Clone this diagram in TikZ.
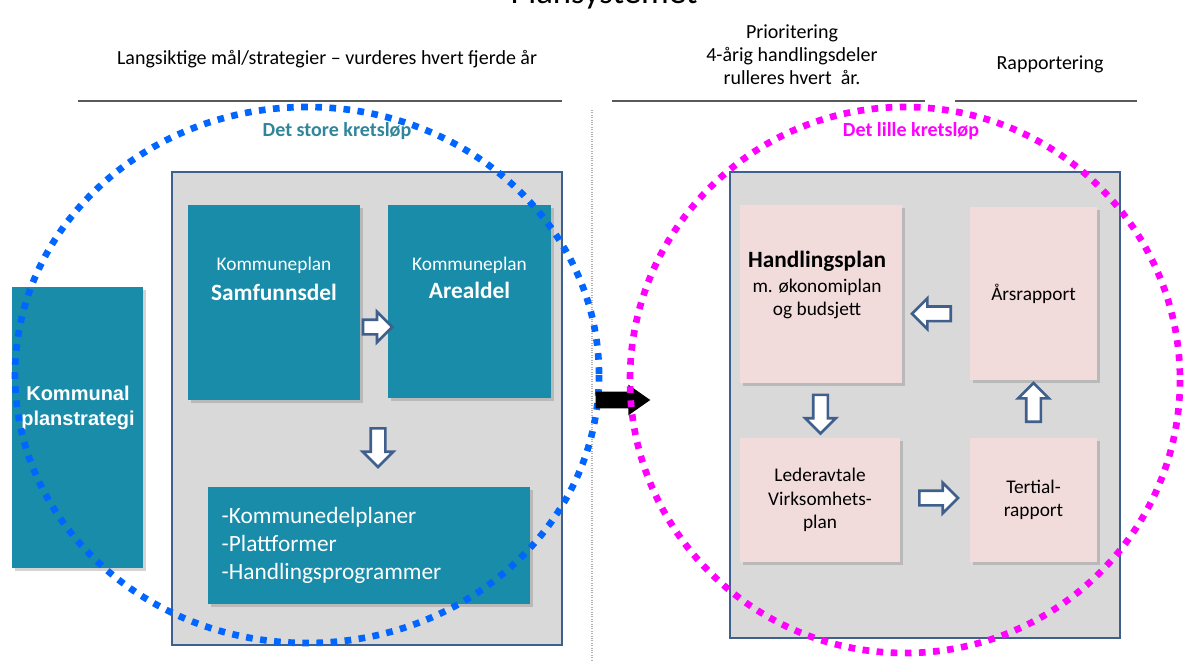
\documentclass[tikz,border=0pt]{standalone}
\usepackage{fontspec}
\setmainfont{Carlito}
\newfontfamily\arialfont{Liberation Sans}
\usetikzlibrary{shapes.arrows,shadows,calc,positioning}
\definecolor{planteal}{RGB}{24,140,168}
\definecolor{kretsteal}{RGB}{49,133,155}
\definecolor{panelgray}{RGB}{217,217,217}
\definecolor{panelblue}{RGB}{63,96,140}
\definecolor{notepink}{RGB}{242,220,219}
\definecolor{dotblue}{RGB}{0,102,255}
\definecolor{dotmagenta}{RGB}{255,0,255}
\colorlet{rulegray}{black!65}
\newcommand\hdrsize{\fontsize{15}{17.25}\selectfont}
\newcommand\boxsize{\fontsize{14.5}{17.6}\selectfont}
\newcommand\bigsize{\fontsize{17.5}{20}\selectfont}

\tikzset{
  boxshadow/.style={drop shadow={shadow xshift=2pt, shadow yshift=-2pt, opacity=0.35}},
  tealbox/.style={fill=planteal, inner sep=0pt, boxshadow},
  pinkbox/.style={fill=notepink, inner sep=0pt, align=center, font=\boxsize, boxshadow},
  panel/.style={fill=panelgray, draw=panelblue, line width=2pt},
  blockarrow/.style={single arrow, draw=panelblue, fill=white, line width=2pt, inner sep=4.5pt,
    single arrow head extend=6pt, minimum height=29pt},
  kretsdots/.style={line width=5pt, dash pattern=on 5pt off 5.6pt},
  hdr/.style={font=\hdrsize, align=center},
}

\begin{document}
\begin{tikzpicture}[x=0.75pt,y=-0.75pt]
  \useasboundingbox (0,0) rectangle (1184,661);
  \node[anchor=base, font=\fontsize{26}{30}\selectfont] (title) at (604,3) {Plansystemet};
  \node[hdr] (langs) at (327,59) {Langsiktige mål/strategier – vurderes hvert fjerde år};
  \node[hdr] (prior) at (792,55) {Prioritering\\4-årig handlingsdeler\\rulleres hvert\ \ år.};
  \node[hdr] (rapp) at (1050,64) {Rapportering};
  \foreach \a/\b in {78/562,612/925,955/1137}
    \draw[rulegray, line width=1.2pt] (\a,101) -- (\b,101);
  \draw[gray!60, densely dotted, line width=0.8pt] (592,110) -- (592,661);

  \draw[panel] (172,172) rectangle (562,645);
  \draw[panel] (730,172) rectangle (1120,638);

  \node[tealbox, minimum width=98.25pt, minimum height=210.75pt] (plst) at (77.5,427.5) {};
  \node[white, align=center, font=\arialfont\bfseries\fontsize{15}{18.75}\selectfont] at (78,408) {Kommunal\\planstrategi};

  \node[tealbox, minimum width=129pt, minimum height=146.25pt] (samf) at (274,302.5) {};
  \node[white, font=\boxsize] at (274,265) {Kommuneplan};
  \node[white, font=\bigsize\bfseries] at (274,292) {Samfunnsdel};

  \node[tealbox, minimum width=122.25pt, minimum height=144.75pt] (areal) at (469.5,301.5) {};
  \node[white, font=\boxsize] at (469.5,265) {Kommuneplan};
  \node[white, font=\bigsize\bfseries] at (469.5,290) {Arealdel};

  \node[tealbox, minimum width=241.5pt, minimum height=87.75pt] (delplan) at (369,545.5) {};
  \node[white, anchor=west, align=left, font=\fontsize{17.5}{21}\selectfont] at (217,545)
    {-Kommunedelplaner\\-Plattformer\\-Handlingsprogrammer};

  \node[blockarrow, minimum height=22pt] at ($(samf.east)!0.5!(areal.west)+(0,25)$) {};
  \node[blockarrow, shape border rotate=270] at (378,444) {};

  \node[pinkbox, minimum width=121.5pt, minimum height=133.5pt] (handl) at (821,294) {};
  \node[align=center, font=\boxsize] at (817,285)
    {{\bigsize\bfseries Handlingsplan}\\[1.5pt]m. økonomiplan\\og budsjett};
  \node[pinkbox, minimum width=95.25pt, minimum height=129.75pt] (aars) at (1033.5,293.5) {Årsrapport};
  \node[pinkbox, minimum width=120pt, minimum height=93pt] (leder) at (820,500) {Lederavtale\\Virksomhets-\\plan};
  \node[pinkbox, minimum width=95.25pt, minimum height=93pt] (tert) at (1033.5,500) {Tertial-\\rapport};

  \node[blockarrow, shape border rotate=180] at ($(handl.east)!0.5!(aars.west)+(-1,20)$) {};
  \node[blockarrow, shape border rotate=270] at ($(handl.south)!0.5!(leder.north)$) {};
  \node[blockarrow] at ($(leder.east)!0.5!(tert.west)+(0,-2)$) {};
  \node[blockarrow, shape border rotate=90] at ($(tert.north)!0.5!(aars.south)+(0,-3)$) {};

  \draw[dotblue, kretsdots] (307,375) ellipse [x radius=292, y radius=268];
  \node[single arrow, fill=black, inner sep=6pt, single arrow head extend=5.25pt,
    single arrow tip angle=70, minimum height=41pt] (skift) at (617,400) {};
  \draw[dotmagenta, kretsdots] (905,380) ellipse [x radius=275, y radius=273];

  \node[text=kretsteal, font=\fontsize{15}{18}\selectfont\bfseries] at (337,131) {Det store kretsløp};
  \node[text=dotmagenta, font=\fontsize{15}{18}\selectfont\bfseries] at (911,131) {Det lille kretsløp};
\end{tikzpicture}
\end{document}
